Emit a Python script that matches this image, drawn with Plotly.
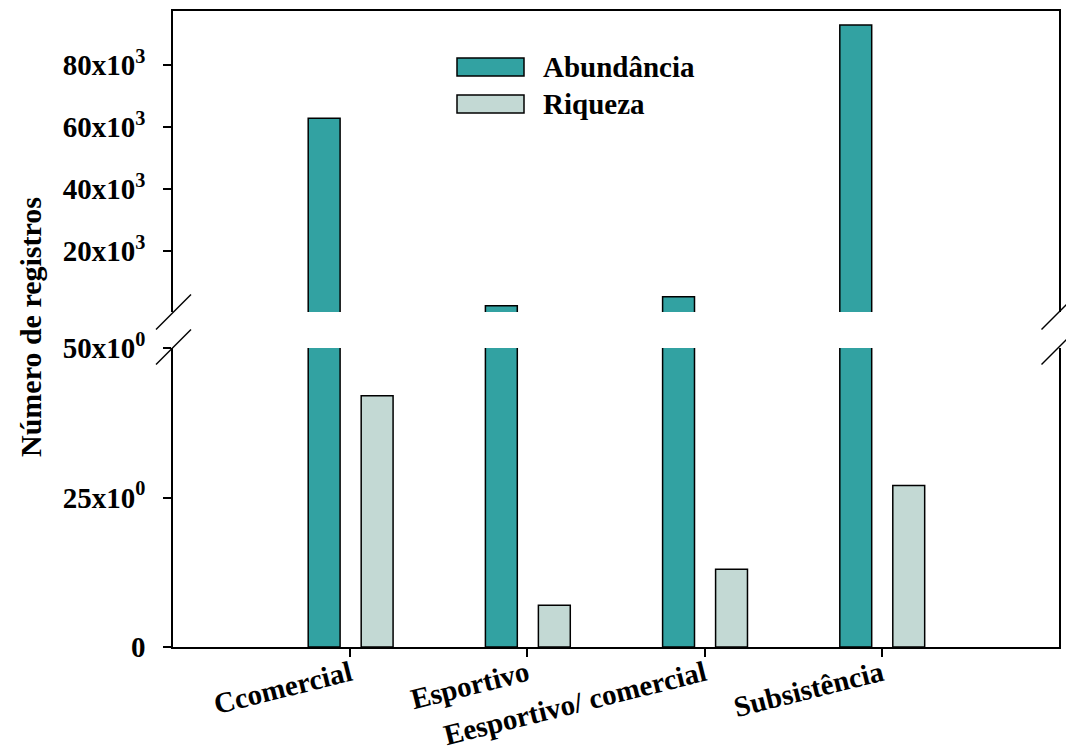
import plotly.graph_objects as go

# Fishing modality categories and counts
categorias = ["Ccomercial", "Esportivo", "Eesportivo/ comercial", "Subsistência"]
abundancia = [62800, 2400, 5300, 92800]
riqueza = [42, 7, 13, 27]

# Axis ticks for the two halves of the broken y axis
ticks_sup_vals = [20000, 40000, 60000, 80000]
ticks_sup_text = ["20x10<sup>3</sup>", "40x10<sup>3</sup>", "60x10<sup>3</sup>", "80x10<sup>3</sup>"]
ticks_inf_vals = [0, 25, 50]
ticks_inf_text = ["0", "25x10<sup>0</sup>", "50x10<sup>0</sup>"]

COR_ABUND = "#32A2A2"
COR_RIQ = "#C3D9D4"
FAMILIA = "Liberation Serif, Times New Roman, serif"
FONTE = dict(family=FAMILIA, size=29, color="black", weight="bold")

W, H = 1066, 755
L, R, T, B = 173, 1059, 11, 647  # plot area in pixels
Y_SUP_BOT = 312                   # bottom of upper panel
Y_INF_TOP = 348                   # top of lower panel


def px(x):
    return (x - L) / (R - L)


def py(y):
    return (B - y) / (B - T)


fig = go.Figure()

bar_line = dict(color="black", width=1.5)
# lower panel: both series
fig.add_trace(go.Bar(x=categorias, y=abundancia, name="Abundância", marker=dict(color=COR_ABUND, line=bar_line),
                     width=0.18, offset=-0.237, xaxis="x", yaxis="y"))
fig.add_trace(go.Bar(x=categorias, y=riqueza, name="Riqueza", marker=dict(color=COR_RIQ, line=bar_line),
                     width=0.18, offset=0.062, xaxis="x", yaxis="y"))
# upper panel: abundance only
fig.add_trace(go.Bar(x=categorias, y=abundancia, name="Abundância", marker=dict(color=COR_ABUND, line=bar_line),
                     width=0.18, offset=-0.237, xaxis="x2", yaxis="y2"))

axis_common = dict(showline=True, linecolor="black", linewidth=1.5, showgrid=False, zeroline=False,
                   tickfont=FONTE, tickcolor="black", tickwidth=1.5, automargin=False)

fig.update_layout(
    width=W, height=H,
    margin=dict(l=L, r=W - R, t=T, b=H - B, autoexpand=False),
    paper_bgcolor="white", plot_bgcolor="white",
    showlegend=False,
    barmode="overlay",
    font=FONTE,
    xaxis=dict(**axis_common, type="category", range=[-1, 4], ticks="outside", ticklen=8,
               tickangle=-14, anchor="y", mirror=False, ticklabelstandoff=-11),
    xaxis2=dict(**axis_common, type="category", range=[-1, 4], matches="x", anchor="y2", side="top",
                showticklabels=False, ticks=""),
    yaxis=dict(**axis_common, domain=[0, py(Y_INF_TOP)], range=[0, 50], tickvals=ticks_inf_vals,
               ticktext=ticks_inf_text, ticks="outside", ticklen=8, mirror=True, ticklabelstandoff=12),
    yaxis2=dict(**axis_common, domain=[py(Y_SUP_BOT), 1], range=[400, 97300], tickvals=ticks_sup_vals,
                ticktext=ticks_sup_text, ticks="outside", ticklen=8, mirror=True, ticklabelstandoff=12),
)

# axis break marks on both sides
shapes = []
hs = 17.5
for xc in (L + 0.5, R):
    for yc in (Y_SUP_BOT, Y_INF_TOP - 1):
        shapes.append(dict(type="line", xref="paper", yref="paper",
                           x0=px(xc - hs), y0=py(yc + hs), x1=px(xc + hs), y1=py(yc - hs),
                           line=dict(color="black", width=1.5)))

# legend
leg_items = [("Abundância", COR_ABUND, 67), ("Riqueza", COR_RIQ, 104)]
annotations = []
for nome, cor, yc in leg_items:
    shapes.append(dict(type="rect", xref="paper", yref="paper", x0=px(457), x1=px(524),
                       y0=py(yc + 9), y1=py(yc - 9), fillcolor=cor, line=dict(color="black", width=1.5)))
    annotations.append(dict(text=nome, xref="paper", yref="paper", x=px(541), y=py(yc),
                            xanchor="left", yanchor="middle", showarrow=False, font=FONTE))

annotations.append(dict(text="Número de registros", xref="paper", yref="paper", x=px(30), y=py(327),
                        xanchor="center", yanchor="middle", textangle=-90, showarrow=False,
                        font=dict(FONTE, size=30)))

fig.update_layout(shapes=shapes, annotations=annotations)

fig.write_html("out.html")
